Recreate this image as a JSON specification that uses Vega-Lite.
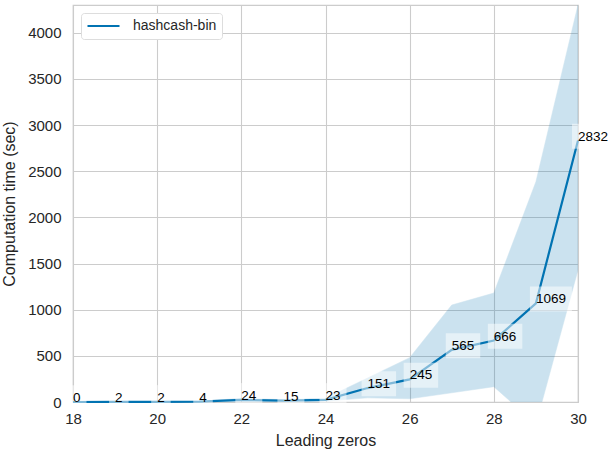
{
  "$schema": "https://vega.github.io/schema/vega-lite/v6.json",
  "width": 505,
  "height": 397,
  "autosize": {"type": "none"},
  "padding": {"left": 73, "top": 5, "right": 37, "bottom": 53},
  "background": "white",
  "config": {
    "font": "Liberation Sans",
    "view": {"stroke": "#cccccc", "strokeWidth": 1.25},
    "axis": {
      "gridColor": "#cccccc",
      "gridWidth": 1.1,
      "domain": false,
      "ticks": false,
      "labelFlush": false,
      "labelFont": "Liberation Sans",
      "labelFontSize": 15,
      "labelColor": "#262626",
      "titleFont": "Liberation Sans",
      "titleFontSize": 16,
      "titleFontWeight": "normal",
      "titleColor": "#262626"
    }
  },
  "data": {
    "values": [
      {"zeros": 18, "mean": 0, "lower": 0, "upper": 1},
      {"zeros": 19, "mean": 2, "lower": 1, "upper": 3},
      {"zeros": 20, "mean": 2, "lower": 1, "upper": 3},
      {"zeros": 21, "mean": 4, "lower": 2, "upper": 6},
      {"zeros": 22, "mean": 24, "lower": 10, "upper": 40},
      {"zeros": 23, "mean": 15, "lower": 5, "upper": 25},
      {"zeros": 24, "mean": 23, "lower": 10, "upper": 40},
      {"zeros": 25, "mean": 151, "lower": 45, "upper": 260},
      {"zeros": 26, "mean": 245, "lower": 35, "upper": 480},
      {"zeros": 27, "mean": 565, "lower": 100, "upper": 1050},
      {"zeros": 28, "mean": 666, "lower": 166, "upper": 1180},
      {"zeros": 29, "mean": 1069, "lower": -240, "upper": 2385},
      {"zeros": 30, "mean": 2832, "lower": 1431, "upper": 4300}
    ]
  },
  "transform": [{"calculate": "length(toString(datum.mean))", "as": "nchar"}],
  "encoding": {
    "x": {
      "field": "zeros",
      "type": "quantitative",
      "scale": {"domain": [18, 30], "nice": false, "zero": false},
      "axis": {"values": [18, 20, 22, 24, 26, 28, 30], "format": "d", "title": "Leading zeros", "labelPadding": 9, "titlePadding": 6}
    }
  },
  "layer": [
    {
      "mark": {"type": "area", "clip": true, "color": "#0173b2", "opacity": 0.2, "stroke": "#0173b2", "strokeWidth": 1, "strokeOpacity": 0.5},
      "encoding": {
        "y": {
          "field": "lower",
          "type": "quantitative",
          "scale": {"domain": [0, 4300], "nice": false},
          "axis": {"values": [0, 500, 1000, 1500, 2000, 2500, 3000, 3500, 4000], "format": "d", "title": "Computation time (sec)", "labelPadding": 12, "titlePadding": 10}
        },
        "y2": {"field": "upper"}
      }
    },
    {
      "mark": {"type": "line", "strokeWidth": 2.2},
      "encoding": {
        "y": {"field": "mean", "type": "quantitative"},
        "color": {
          "datum": "hashcash-bin",
          "type": "nominal",
          "scale": {"range": ["#0173b2"]},
          "legend": {
            "title": null,
            "orient": "none",
            "legendX": 8,
            "legendY": 8,
            "symbolType": "stroke",
            "symbolSize": 1024,
            "symbolStrokeWidth": 2.2,
            "clipHeight": 16,
            "labelFontSize": 14,
            "labelFont": "Liberation Sans",
            "labelColor": "#262626",
            "labelOffset": 12,
            "padding": 5,
            "strokeColor": "#dddddd",
            "fillColor": "white",
            "cornerRadius": 3
          }
        }
      }
    },
    {
      "mark": {"type": "point", "filled": true, "fill": "white", "opacity": 0.5, "strokeWidth": 0, "size": 400},
      "encoding": {
        "y": {"field": "mean", "type": "quantitative"},
        "shape": {
          "field": "nchar",
          "type": "nominal",
          "scale": {
            "domain": [1, 2, 3, 4],
            "range": [
              "M-0.6,-1.67H1.35V0.83H-0.6Z",
              "M-0.6,-1.67H2.1V0.83H-0.6Z",
              "M-0.6,-1.67H2.85V0.83H-0.6Z",
              "M-0.6,-1.67H3.6V0.83H-0.6Z"
            ]
          },
          "legend": null
        }
      }
    },
    {
      "mark": {"type": "text", "align": "left", "baseline": "alphabetic", "fontSize": 13.5, "color": "black", "font": "Liberation Sans"},
      "encoding": {
        "y": {"field": "mean", "type": "quantitative"},
        "text": {"field": "mean", "type": "quantitative", "format": "d"}
      }
    }
  ]
}
